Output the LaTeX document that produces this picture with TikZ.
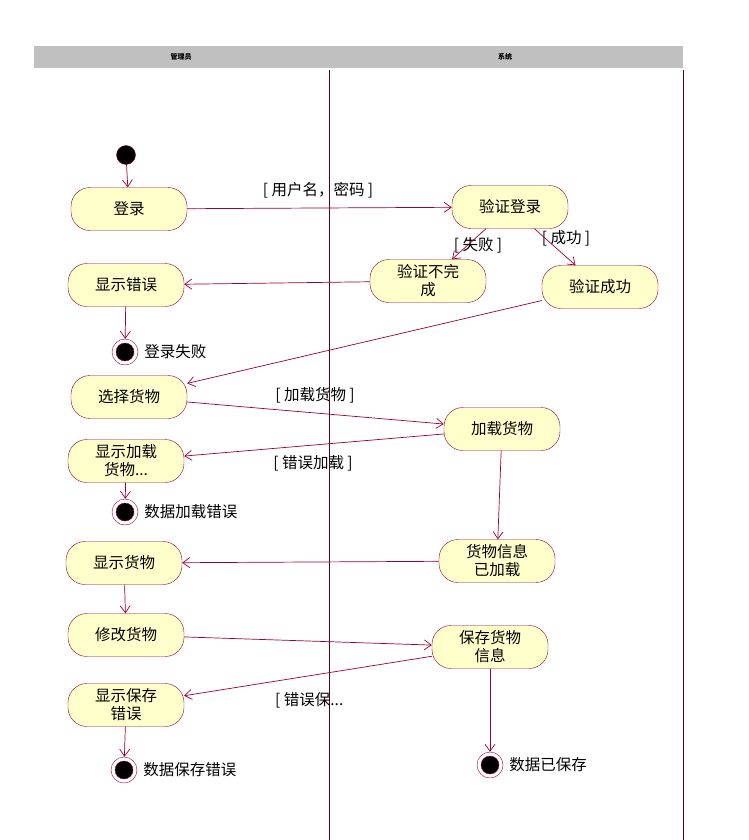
\documentclass[tikz,border=0pt]{standalone}
\usepackage{fontspec}
\setmainfont{Noto Sans CJK SC}
\usepackage{tikz}
\usetikzlibrary{arrows.meta,positioning}
\definecolor{umlred}{RGB}{153,0,51}
\definecolor{umlfill}{RGB}{255,255,204}
\definecolor{lanegray}{RGB}{192,192,192}
\newcommand{\actfont}{\fontsize{15.5}{18}\selectfont}
\newcommand{\lanefont}{\fontsize{7}{8}\selectfont\bfseries}

\begin{document}
\begin{tikzpicture}[x=1pt,y=-1pt,
  activity/.style={draw=umlred,fill=umlfill,rounded corners=19pt,minimum width=116pt,minimum height=43pt,align=center,inner sep=1pt,font=\actfont},
  startdot/.style={circle,draw=umlred,fill=black,minimum size=19pt,inner sep=0pt},
  enddot/.style={circle,draw=umlred,fill=white,minimum size=26pt,inner sep=0pt,
    path picture={\fill[black,draw=umlred] (path picture bounding box.center) circle (9pt);}},
  endtext/.style={font=\actfont,inner sep=0pt},
  guard/.style={font=\actfont,inner sep=0pt},
  flow/.style={draw=umlred,line width=0.7pt,-{Straight Barb[length=7pt,width=10pt]}},
  lane/.style={draw=umlred!60!black,line width=0.8pt}]
\useasboundingbox (0,0) rectangle (748,840);
% swimlanes
\fill[lanegray] (34,46) rectangle (683,68);
\node[font=\lanefont] (admin) at (181,57) {管理员};
\node[font=\lanefont] (system) at (505,57) {系统};
\draw[lane] (329,70) -- (329,840);
\draw[lane] (683,70) -- (683,840);
% activities
\node[startdot] (start) at (126,155) {};
\node[activity] (login) at (129,209) {登录};
\node[activity] (verify) at (510,207) {验证登录};
\node[activity] (vfail) at (428,281) {验证不完\\成};
\node[activity] (vok) at (600,287) {验证成功};
\node[activity] (showerr) at (126,285) {显示错误};
\node[enddot] (end1) at (125,352) {};
\node[endtext,right=6pt of end1] (end1txt) {登录失败};
\node[activity] (select) at (129,397) {选择货物};
\node[activity] (load) at (502,429) {加载货物};
\node[activity] (showload) at (126,461) {显示加载\\货物...};
\node[enddot] (end2) at (125,512) {};
\node[endtext,right=6pt of end2] (end2txt) {数据加载错误};
\node[activity] (loaded) at (497,561) {货物信息\\已加载};
\node[activity] (showgoods) at (124,563) {显示货物};
\node[activity] (modify) at (126,635) {修改货物};
\node[activity] (save) at (490,647) {保存货物\\信息};
\node[activity] (saveerr) at (126,705) {显示保存\\错误};
\node[enddot] (end3) at (124,770) {};
\node[endtext,right=6pt of end3] (end3txt) {数据保存错误};
\node[enddot] (end4) at (490,765) {};
\node[endtext,right=6pt of end4] (end4txt) {数据已保存};
% guards
\node[guard] (g1) at (318,190) {[ 用户名，密码 ]};
\node[guard] (g2) at (478,245) {[ 失败 ]};
\node[guard] (g3) at (566,238) {[ 成功 ]};
\node[guard] (g4) at (315,395) {[ 加载货物 ]};
\node[guard] (g5) at (313,463) {[ 错误加载 ]};
\node[guard,anchor=west] (g6) at (275,700) {[ 错误保...};
% flows
\draw[flow] (start) -- (login);
\draw[flow] (login) -- (verify);
\draw[flow] (verify) -- (vfail);
\draw[flow] (verify) -- (vok);
\draw[flow] (vfail) -- (showerr);
\draw[flow] (showerr) -- (end1);
\draw[flow] (vok) -- (select);
\draw[flow] (select) -- (load);
\draw[flow] (load) -- (showload);
\draw[flow] (showload) -- (end2);
\draw[flow] (load) -- (loaded);
\draw[flow] (loaded) -- (showgoods);
\draw[flow] (showgoods) -- (modify);
\draw[flow] (modify) -- (save);
\draw[flow] (save) -- (saveerr);
\draw[flow] (saveerr) -- (end3);
\draw[flow] (save) -- (end4);
\end{tikzpicture}
\end{document}
